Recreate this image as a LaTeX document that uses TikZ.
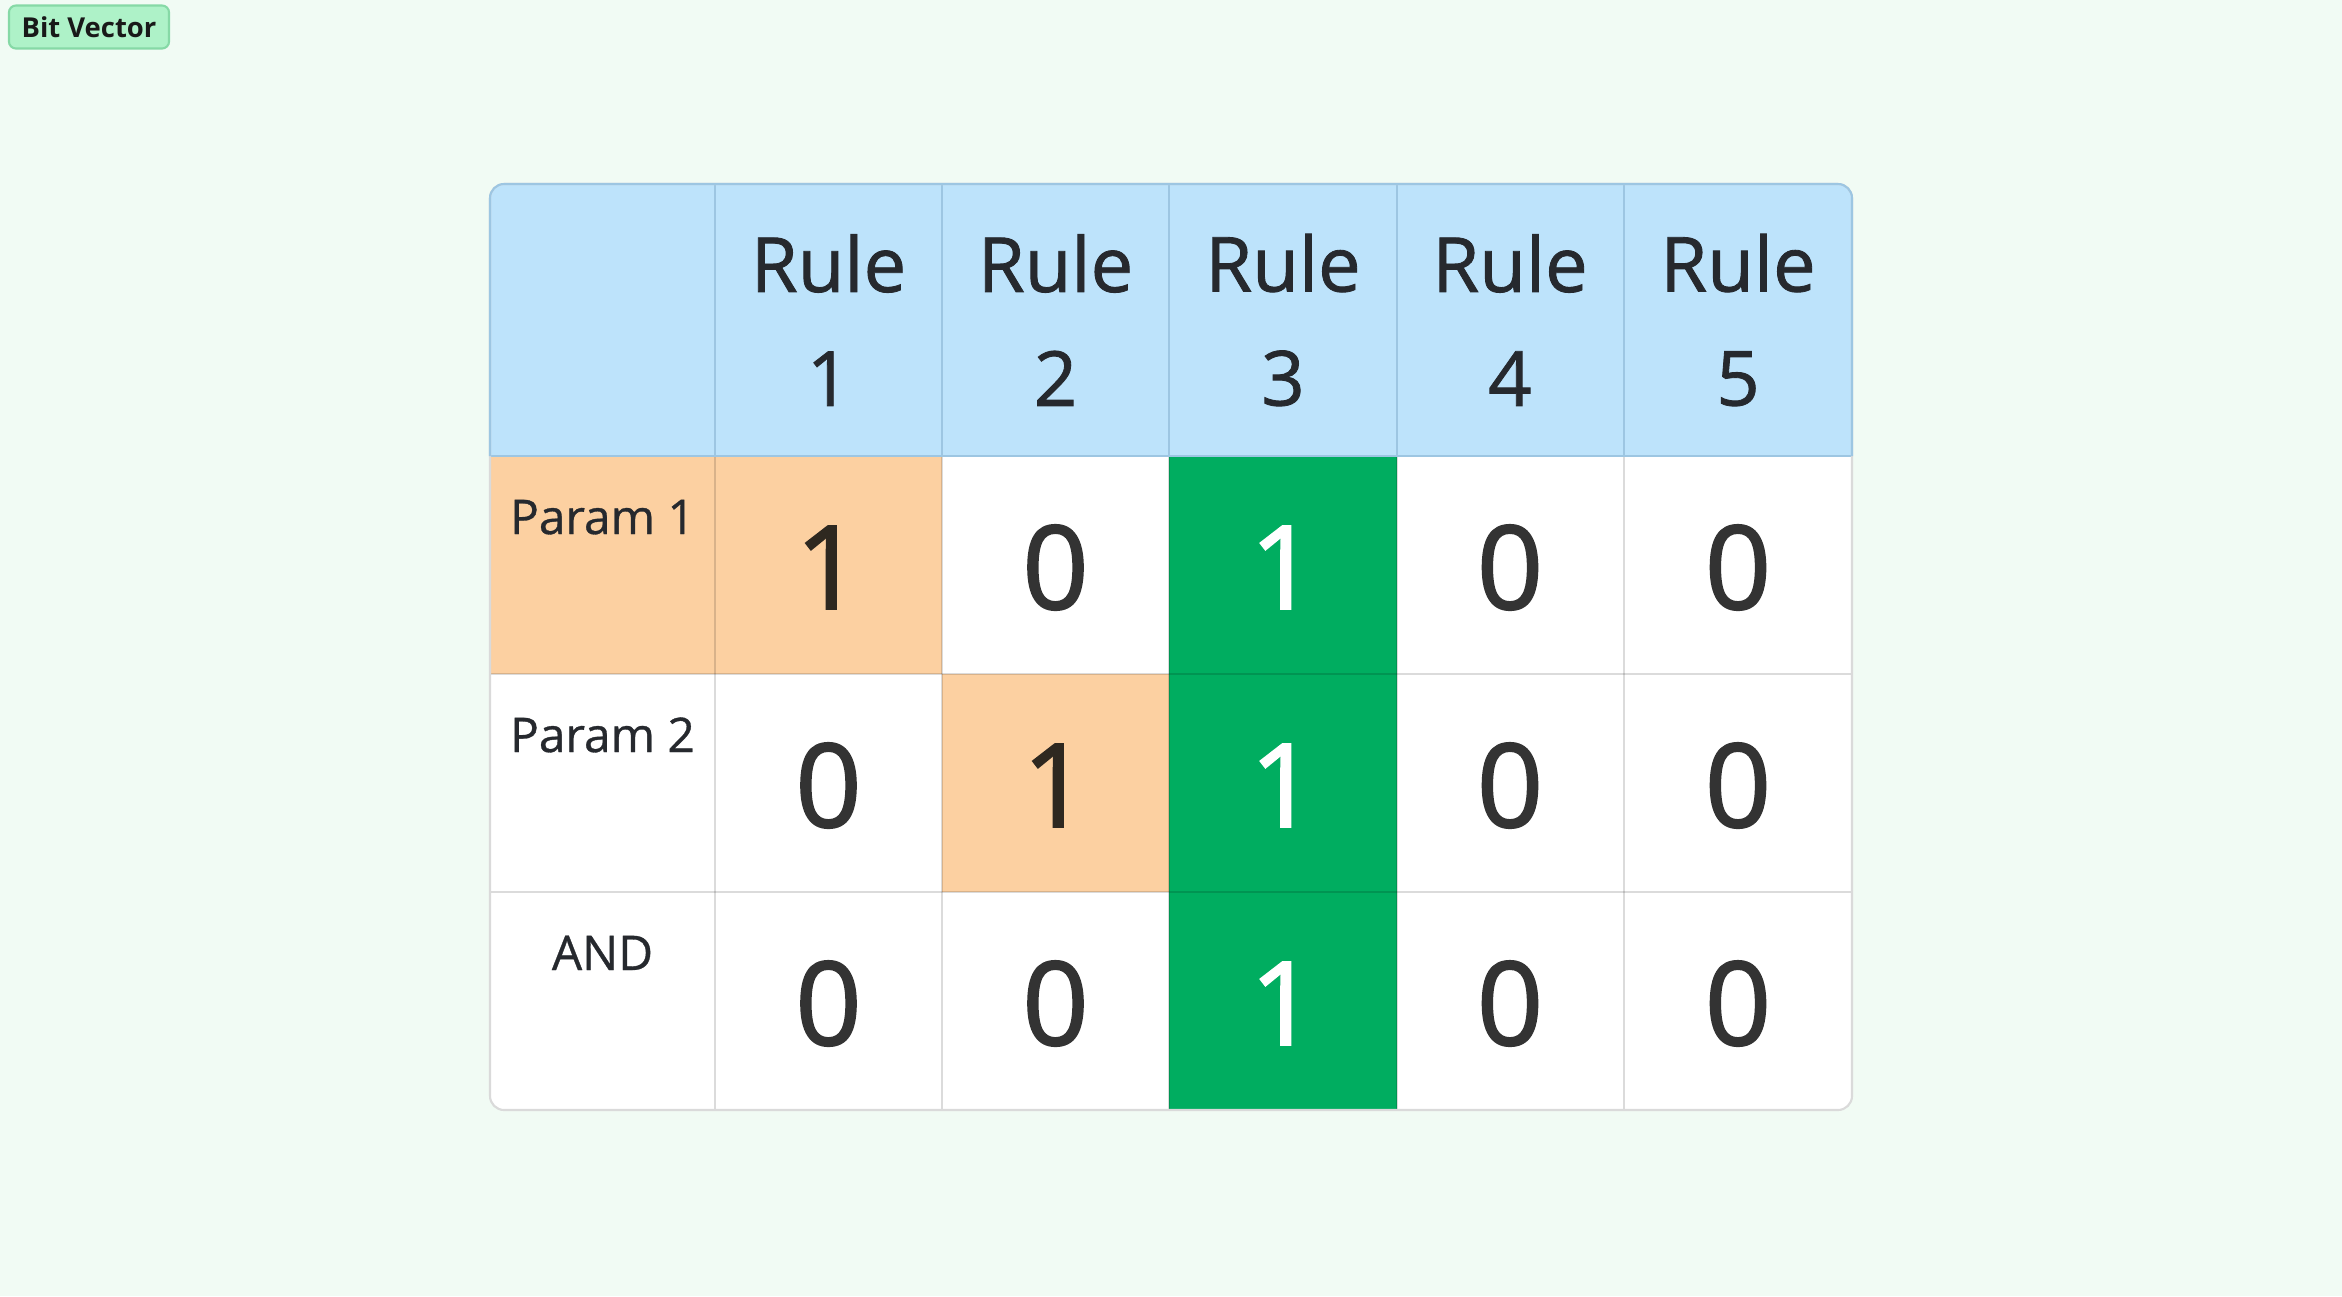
\documentclass[tikz,border=0pt]{standalone}
\usepackage{fontspec}
\setmainfont{Open Sans}
\newfontfamily\digitface{Open Sans}[FakeBold=1.6]
\newfontfamily\heavyface{Open Sans}[FakeBold=1.1]
\newfontfamily\mediumface{Open Sans}[FakeBold=0.7]
\usepackage{xcolor}
\definecolor{pagemint}{HTML}{F1FBF4}
\definecolor{headerblue}{HTML}{BDE3FB}
\definecolor{headerline}{HTML}{9DC6E2}
\definecolor{hitorange}{HTML}{FCD0A1}
\definecolor{matchgreen}{HTML}{00AD60}
\definecolor{cellline}{HTML}{DADADA}
\definecolor{inkdark}{HTML}{26292E}
\definecolor{digitgray}{HTML}{333333}
\definecolor{digitbrown}{HTML}{2E2820}
\definecolor{badgemint}{HTML}{AEF2C8}
\definecolor{badgeline}{HTML}{86D9A6}

\begin{document}
\begin{tikzpicture}[x=0.01cm, y=-0.01cm,
    ruletxt/.style={inkdark, align=center, font=\heavyface\fontsize{21.6pt}{32.4pt}\selectfont},
    paramtxt/.style={inkdark, anchor=base, font=\mediumface\fontsize{13.6pt}{17pt}\selectfont},
    bittxt/.style={anchor=base, font=\digitface\fontsize{33pt}{40pt}\selectfont},
    badge/.style={fill=badgemint, draw=badgeline, line width=0.6pt, rounded corners=2pt,
        minimum width=1.6cm, minimum height=0.43cm, inner sep=0pt,
        font=\bfseries\fontsize{7.8pt}{10pt}\selectfont, text=black!90}]
    % Page
    \fill[pagemint] (0,0) rectangle (2342,1296);
    \useasboundingbox (0,0) rectangle (2342,1296);

    % Badge
    \node[badge] (title) at (89,27) {Bit Vector};

    % Table body
    \begin{scope}
        \clip[rounded corners=4pt] (490,184) rectangle (1852,1110);
        \fill[white] (490,184) rectangle (1852,1110);
        \fill[headerblue] (490,184) rectangle (1852,456);
        \fill[hitorange] (490,456) rectangle (942,674);
        \fill[hitorange] (942,674) rectangle (1169,892);
        \fill[matchgreen] (1169,456) rectangle (1397,1110);
        % Grid
        \foreach \x in {715,942,1169,1397,1624}
            \draw[headerline, line width=0.5pt] (\x,184) -- (\x,456);
        \foreach \x in {715,942,1169,1397,1624}
            \draw[black, opacity=0.14, line width=0.6pt] (\x,456) -- (\x,1110);
        \foreach \y in {674,892}
            \draw[black, opacity=0.14, line width=0.6pt] (490,\y) -- (1852,\y);
        \draw[headerline, line width=0.6pt] (490,456) -- (1852,456);
    \end{scope}
    \draw[cellline, line width=0.6pt, rounded corners=4pt] (490,184) rectangle (1852,1110);
    \draw[headerline, line width=0.6pt, rounded corners=4pt] (490,456) -- (490,184) -- (1852,184) -- (1852,456);

    % Header
    \foreach \n/\x in {1/828.5,2/1055.5,3/1283,4/1510,5/1738}
        \node[ruletxt] (rule\n) at (\x,320) {Rule\\\n};

    % Row labels
    \node[paramtxt] (paramA) at (602.5,534) {Param 1};
    \node[paramtxt] (paramB) at (602.5,752) {Param 2};
    \node[paramtxt] (androw) at (602.5,970) {AND};

    % Bits
    \node[bittxt, digitbrown] (a1) at (828.5,609) {1};
    \node[bittxt, digitgray] (a2) at (1055.5,609) {0};
    \node[bittxt, white] (a3) at (1283,609) {1};
    \node[bittxt, digitgray] (a4) at (1510,609) {0};
    \node[bittxt, digitgray] (a5) at (1738,609) {0};

    \node[bittxt, digitgray] (b1) at (828.5,827) {0};
    \node[bittxt, digitbrown] (b2) at (1055.5,827) {1};
    \node[bittxt, white] (b3) at (1283,827) {1};
    \node[bittxt, digitgray] (b4) at (1510,827) {0};
    \node[bittxt, digitgray] (b5) at (1738,827) {0};

    \node[bittxt, digitgray] (c1) at (828.5,1045) {0};
    \node[bittxt, digitgray] (c2) at (1055.5,1045) {0};
    \node[bittxt, white] (c3) at (1283,1045) {1};
    \node[bittxt, digitgray] (c4) at (1510,1045) {0};
    \node[bittxt, digitgray] (c5) at (1738,1045) {0};
\end{tikzpicture}
\end{document}
